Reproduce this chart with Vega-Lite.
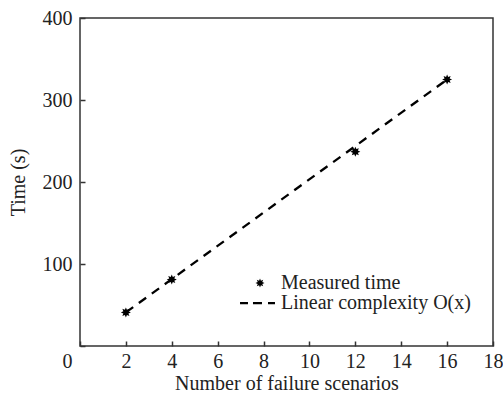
{
  "$schema": "https://vega.github.io/schema/vega-lite/v6.json",
  "width": 413,
  "height": 328,
  "autosize": {"type": "none"},
  "padding": {"left": 80, "top": 18, "right": 10, "bottom": 49},
  "background": "white",
  "config": {
    "view": {"stroke": "#333333", "strokeWidth": 1.5},
    "font": "Liberation Serif",
    "axis": {
      "grid": false,
      "domain": false,
      "labelFont": "Liberation Serif",
      "labelFontSize": 20,
      "labelColor": "#222222",
      "titleFont": "Liberation Serif",
      "titleFontSize": 20,
      "titleFontWeight": "normal",
      "titleColor": "#222222",
      "tickColor": "#333333",
      "tickWidth": 1.5,
      "labelFlush": false,
      "labelOverlap": false
    },
    "legend": {
      "labelFont": "Liberation Serif",
      "labelFontSize": 20,
      "labelColor": "#222222",
      "labelLimit": 400
    }
  },
  "datasets": {
    "measured": [
      {"scenarios": 2, "time": 41, "series": "Measured time"},
      {"scenarios": 4, "time": 81, "series": "Measured time"},
      {"scenarios": 12, "time": 237, "series": "Measured time"},
      {"scenarios": 16, "time": 325, "series": "Measured time"}
    ],
    "fit": [
      {"scenarios": 2, "time": 41},
      {"scenarios": 16, "time": 325}
    ]
  },
  "layer": [
    {
      "data": {"name": "fit"},
      "mark": {"type": "line", "color": "black", "strokeWidth": 2.3, "strokeDash": [9, 7]},
      "encoding": {
        "x": {"field": "scenarios", "type": "quantitative"},
        "y": {"field": "time", "type": "quantitative"}
      }
    },
    {
      "data": {"name": "measured"},
      "mark": {"type": "point", "filled": true, "color": "black", "opacity": 1, "size": 100},
      "encoding": {
        "x": {
          "field": "scenarios",
          "type": "quantitative",
          "scale": {"domain": [0, 18], "nice": false, "zero": false},
          "axis": {
            "title": "Number of failure scenarios",
            "values": [0, 2, 4, 6, 8, 10, 12, 14, 16, 18],
            "tickSize": -5,
            "labelPadding": 10,
            "labelOffset": {"condition": {"test": "datum.value === 0", "value": -13}, "value": 0},
            "titlePadding": 2
          }
        },
        "y": {
          "field": "time",
          "type": "quantitative",
          "scale": {"domain": [0, 400], "nice": false},
          "axis": {
            "title": "Time (s)",
            "values": [0, 100, 200, 300, 400],
            "tickSize": -5,
            "labelPadding": 13,
            "labelExpr": "datum.value === 0 ? '' : datum.label",
            "titlePadding": 14
          }
        },
        "shape": {
          "field": "series",
          "type": "nominal",
          "scale": {
            "domain": ["Measured time", "Linear complexity O(x)"],
            "range": [
              "M1,0 L0.508,0.21 L0.707,0.707 L0.21,0.508 L0,1 L-0.21,0.508 L-0.707,0.707 L-0.508,0.21 L-1,0 L-0.508,-0.21 L-0.707,-0.707 L-0.21,-0.508 L0,-1 L0.21,-0.508 L0.707,-0.707 L0.508,-0.21 Z",
              "M-4.44,-0.25 H-2.67 V0.25 H-4.44 Z M-1.56,-0.25 H0.44 V0.25 H-1.56 Z M1.78,-0.25 H3.33 V0.25 H1.78 Z"
            ]
          },
          "legend": {
            "title": null,
            "orient": "none",
            "legendX": 170,
            "legendY": 255,
            "symbolSize": 81,
            "symbolFillColor": "black",
            "symbolStrokeColor": "black",
            "symbolStrokeWidth": 0.5,
            "labelOffset": 11,
            "rowPadding": 0,
            "padding": 0
          }
        }
      }
    }
  ]
}
